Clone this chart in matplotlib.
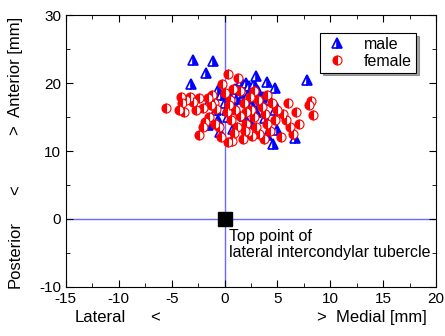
import matplotlib
matplotlib.use("Agg")
import matplotlib.pyplot as plt
from matplotlib.ticker import MultipleLocator

plt.rcParams['font.family'] = ['Liberation Sans', 'DejaVu Sans']
plt.rcParams['font.size'] = 9.5
plt.rcParams['axes.unicode_minus'] = False

# male points (medial/lateral, anterior/posterior) in mm
male_x = [-3.0, -1.1, -1.75, -3.2, -0.6, -1.5, -0.3, 0.5, 1.0, 1.5, 2.0, 2.3, 2.8, 3.2, 3.6,
          4.0, 4.8, 7.8, 1.2, 2.0, 2.6, 3.4, 1.0, 0.2, 5.0, 4.8, 5.0, 4.6, 6.7, 4.0, -1.6,
          -0.6, 0.3, 1.8, 2.5, 3.0, 3.8, 0.8, -0.4, 2.2, 1.6, 3.0, 0.0, -0.8, 4.3]
male_y = [23.4, 23.2, 21.5, 19.9, 19.0, 17.2, 18.3, 18.0, 19.2, 18.5, 20.0, 19.5, 19.8, 18.8, 18.0,
          20.1, 19.3, 20.4, 17.6, 17.3, 16.8, 17.0, 16.5, 16.0, 16.3, 16.0, 13.1, 11.0, 11.9, 12.4, 13.8,
          14.6, 15.0, 15.2, 14.0, 15.8, 14.8, 13.2, 12.8, 18.3, 20.3, 21.0, 17.0, 16.0, 17.5]

female_x = [-5.5, -4.1, -4.0, -3.6, -3.3, -3.0, -2.7, -2.4, -2.0, -4.3, -3.8, -2.4, -1.2, -1.0,
            -0.8, -1.5, -0.9, -0.5, -1.8, -1.3, -0.3, 0.3, 0.7, 0.3, 1.3, 0.8, 0.5, 0.2, 0.6, 1.0,
            1.2, 1.5, 1.8, 2.0, 2.2, 2.5, 2.8, 3.0, 3.2, 3.5, 3.8, 4.0, 4.3, 2.6, 3.3, 1.7, 0.9,
            2.4, 1.5, 4.5, 5.0, 5.5, 5.8, 6.2, 6.8, 7.0, 8.2, 8.4, 8.0, 6.5, 5.3, 4.0, 2.8, 0.0,
            -0.2, 1.9, 3.7, 4.8, 6.0, -2.0, -1.6, 2.0, 0.4]
female_y = [16.4, 18.0, 17.0, 17.5, 18.0, 17.2, 16.0, 17.8, 16.4, 16.0, 15.8, 12.4, 18.2, 17.0,
            16.2, 15.0, 14.0, 13.5, 14.2, 16.8, 12.0, 11.3, 11.5, 21.3, 20.7, 19.2, 17.5, 15.8, 14.5, 16.0,
            13.5, 15.2, 17.0, 14.0, 12.8, 16.0, 15.0, 13.5, 17.5, 16.5, 15.5, 14.0, 13.0, 12.2, 12.5, 11.8, 12.6,
            18.0, 18.8, 17.0, 16.0, 15.5, 14.5, 13.5, 15.8, 14.0, 17.4, 15.3, 16.8, 12.5, 12.0, 18.3, 18.8, 18.5,
            19.8, 13.0, 11.7, 14.6, 17.0, 13.5, 17.8, 15.8, 16.8]

fig = plt.figure(figsize=(4.45, 3.36), dpi=100)
ax = fig.add_axes([0.148, 0.146, 0.832, 0.809])

axis_blue = '#6a6aff'
ax.axhline(0, color=axis_blue, lw=1, zorder=1)
ax.axvline(0, color=axis_blue, lw=1, zorder=1)

ax.plot(female_x, female_y, 'o', ms=6.5, color='red', mec='red', mew=0.8,
        fillstyle='left', markerfacecoloralt='white', label='female', zorder=3)
ax.plot(male_x, male_y, '^', ms=6.5, color='blue', mec='blue', mew=1.2,
        fillstyle='right', markerfacecoloralt='white', label='male', zorder=2)

ax.plot([0], [0], 's', ms=9.5, color='black', zorder=4)
ax.text(0.45, -1.4, 'Top point of\nlateral intercondylar tubercle',
        va='top', ha='left', linespacing=1.15, fontsize=11.5)

ax.set_xlim(-15, 20)
ax.set_ylim(-10, 30)
ax.xaxis.set_major_locator(MultipleLocator(5))
ax.xaxis.set_minor_locator(MultipleLocator(2.5))
ax.yaxis.set_major_locator(MultipleLocator(10))
ax.yaxis.set_minor_locator(MultipleLocator(5))
ax.tick_params(which='both', direction='in', top=True, right=True)
ax.tick_params(which='major', length=5, labelsize=11)
ax.tick_params(which='minor', length=3)

handles, labels = ax.get_legend_handles_labels()
leg = ax.legend(handles[::-1], labels[::-1], loc='upper right',
                bbox_to_anchor=(0.946, 0.934), fancybox=False, shadow=True,
                edgecolor='black', framealpha=1, borderpad=0.25, fontsize=11.5,
                labelspacing=0.1, handlelength=1.6, handletextpad=0.9,
                borderaxespad=0)
leg.get_frame().set_linewidth(0.8)

# axis labels split into pieces like the original
fig.text(0.168, 0.054, 'Lateral', ha='left', va='center', fontsize=12)
fig.text(0.337, 0.054, '<', ha='left', va='center', fontsize=12)
fig.text(0.712, 0.054, '>  Medial [mm]', ha='left', va='center', fontsize=12)
fig.text(0.035, 0.244, 'Posterior', rotation=90, ha='center', va='center', fontsize=12)
fig.text(0.035, 0.435, '<', rotation=90, ha='center', va='center', fontsize=12)
fig.text(0.035, 0.775, '>  Anterior [mm]', rotation=90, ha='center', va='center', fontsize=12)

fig.savefig('out.png', dpi=100)
